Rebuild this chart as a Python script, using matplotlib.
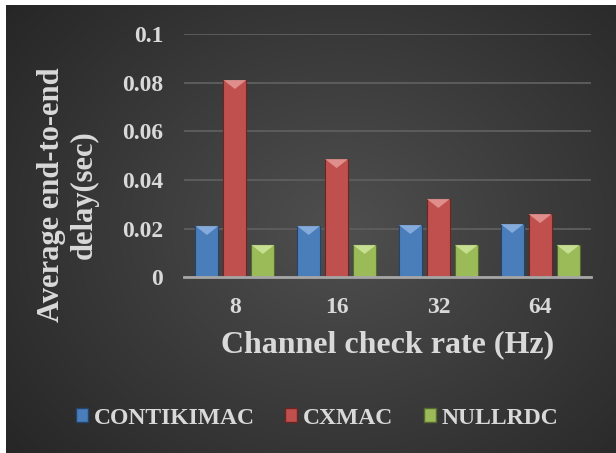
import numpy as np
import matplotlib
matplotlib.use('Agg')
import matplotlib.pyplot as plt
from matplotlib.patches import Patch, Polygon

# data
rates = ['8', '16', '32', '64']
contikimac = [0.0211, 0.0211, 0.0215, 0.0219]
cxmac = [0.0811, 0.0486, 0.0322, 0.0260]
nullrdc = [0.0133, 0.0133, 0.0133, 0.0133]
series = ['CONTIKIMAC', 'CXMAC', 'NULLRDC']
yticks = [0, 0.02, 0.04, 0.06, 0.08, 0.1]
ytick_labels = ['0', '0.02', '0.04', '0.06', '0.08', '0.1']

face = ['#4a7ebb', '#c0504d', '#9bbb59']
edge = ['#24446b', '#6e2422', '#56692e']
light = ['#8fb4e3', '#e59a98', '#cfe69a']
txt = '#d9d9d9'

plt.rcParams['font.family'] = ['Liberation Serif', 'DejaVu Serif']
plt.rcParams['font.weight'] = 'bold'

W, H = 616, 453
fig = plt.figure(figsize=(W / 100, H / 100), dpi=100)
fig.patch.set_facecolor('white')

# dark radial-gradient background, with thin white strip at top/left
bg = fig.add_axes([6 / W, 0, 1 - 6 / W, 1 - 5 / H], zorder=-10)
yy, xx = np.mgrid[0:1:300j, 0:1:400j]
r = np.sqrt(((xx - 0.55) / 0.75) ** 2 + ((yy - 0.5) / 0.85) ** 2)
shade = np.clip(0.31 - 0.17 * r, 0.14, 0.31)
bg.imshow(np.dstack([shade] * 3), aspect='auto', extent=[0, 1, 0, 1])
bg.axis('off')

ax = fig.add_axes([184 / W, 1 - 277.3 / H, (591 - 184) / W, (277.3 - 34) / H])
ax.set_facecolor('none')

x = np.arange(len(rates))
w = 0.226
step = 0.275
all_bars = []
for i, vals in enumerate([contikimac, cxmac, nullrdc]):
    bars = ax.bar(x + (i - 1) * step, vals, width=w, color=face[i],
                  edgecolor=edge[i], linewidth=0.8, label=series[i], zorder=3)
    all_bars.append((bars, i))

# bevel highlight at the top of each bar
px_y = 0.1 / (277.3 - 34)
for bars, i in all_bars:
    for b in bars:
        x0, x1 = b.get_x(), b.get_x() + b.get_width()
        top = b.get_height()
        d = 9 * px_y
        tri = Polygon([[x0, top], [x1, top], [(x0 + x1) / 2, top - d]],
                      closed=True, facecolor=light[i], edgecolor='none',
                      alpha=0.85, zorder=4)
        ax.add_patch(tri)

ax.set_xlim(-0.5, 3.5)
ax.set_ylim(0, 0.1)
ax.set_yticks(yticks)
ax.set_yticklabels(ytick_labels)
ax.set_xticks(x)
ax.set_xticklabels(rates)
ax.tick_params(length=0, labelsize=17, colors=txt)
ax.tick_params(axis='x', pad=14)
ax.tick_params(axis='y', pad=15)
for lab in ax.get_xticklabels() + ax.get_yticklabels():
    lab.set_fontweight('bold')

ax.grid(axis='y', color='#5c5c5c', linewidth=1.4, zorder=0)
ax.set_axisbelow(True)
for s in ['top', 'right', 'left']:
    ax.spines[s].set_visible(False)
ax.spines['bottom'].set_color('#a6a6a6')
ax.spines['bottom'].set_linewidth(2)
ax.spines['bottom'].set_zorder(5)

fig.text(388 / W, 1 - 345 / H, 'Channel check rate (Hz)', ha='center',
         va='center', fontsize=23, fontweight='bold', color=txt)
fig.text(68 / W, 1 - 195 / H, 'Average end-to-end\ndelay(sec)', ha='center',
         va='center', rotation=90, multialignment='center', fontsize=22,
         fontweight='bold', color=txt, linespacing=1.2)

handles = [Patch(facecolor=face[i], edgecolor=edge[i], label=series[i])
           for i in range(3)]
leg = fig.legend(handles=handles, loc='center', ncol=3, frameon=False,
                 bbox_to_anchor=(317 / W, 1 - 418 / H), fontsize=17,
                 handlelength=0.5, handleheight=0.5, handletextpad=0.25,
                 columnspacing=1.3)
for t in leg.get_texts():
    t.set_color(txt)
    t.set_fontweight('bold')

fig.savefig('out.png', dpi=100)
